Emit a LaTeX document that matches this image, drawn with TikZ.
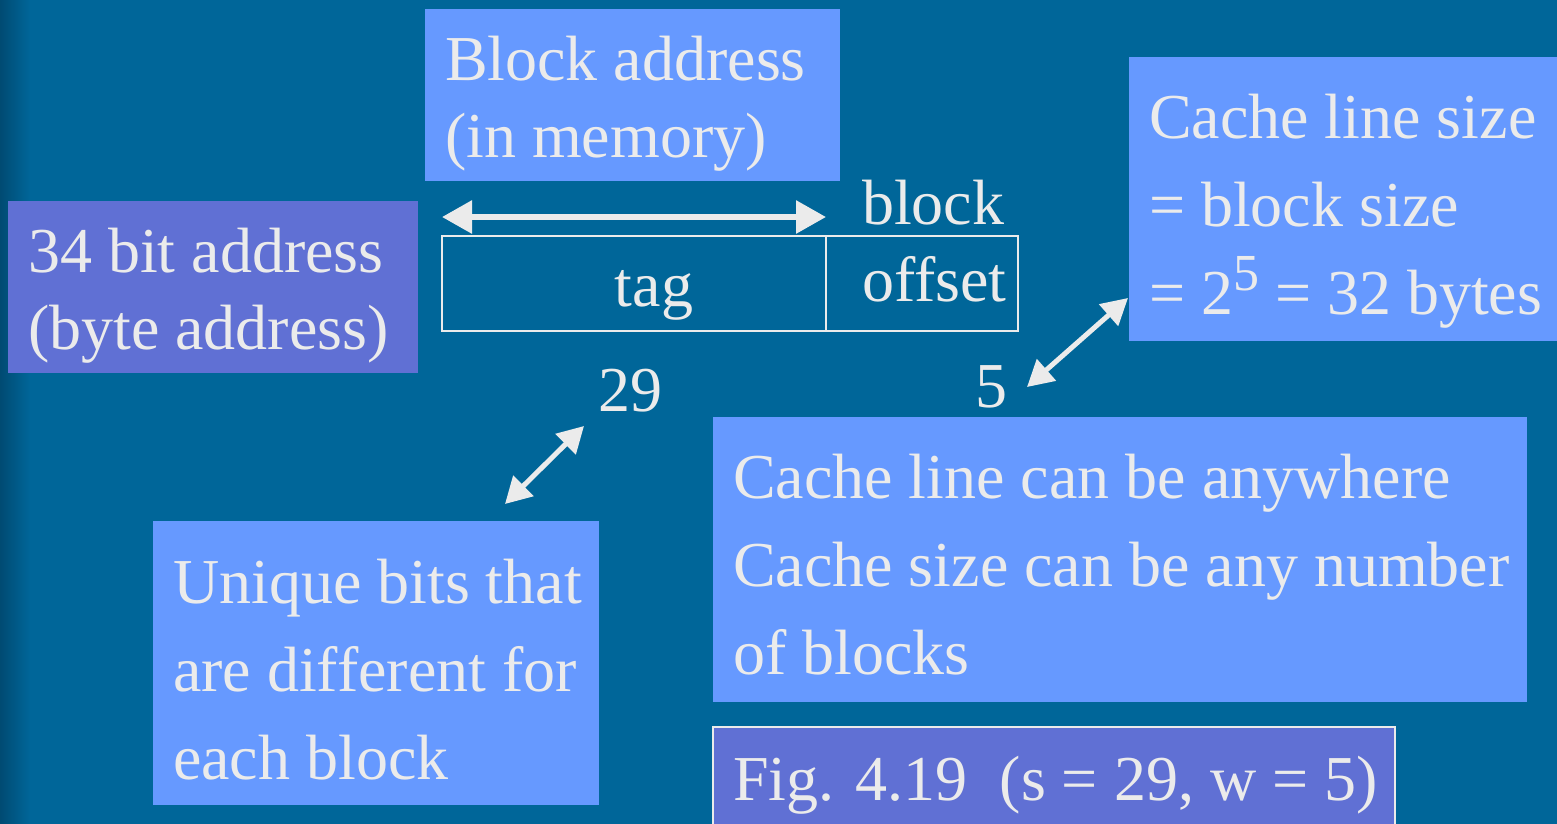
\documentclass[tikz,border=0pt]{standalone}
\usepackage{fontspec}
\setmainfont{Liberation Serif}
\usetikzlibrary{arrows.meta}
\definecolor{bgc}{HTML}{006699}
\definecolor{bgdark}{HTML}{00466C}
\definecolor{lightb}{HTML}{6699FF}
\definecolor{purp}{HTML}{6070D4}
\definecolor{txt}{HTML}{EBEBEB}
\tikzset{
  panel/.style={anchor=north west, inner sep=0pt, outer sep=0pt},
  lbox/.style={panel, fill=lightb},
  pbox/.style={panel, fill=purp},
  txtnode/.style={anchor=base west, inner sep=0pt, outer sep=0pt, text=txt},
  bigtext/.style={font=\fontsize{64}{88}\selectfont},
  twoline/.style={font=\fontsize{64}{77}\selectfont},
  fieldbox/.style={panel, draw=txt, line width=2pt},
  dblarrow/.style={draw=txt, line width=6pt, {Triangle[length=30pt,width=32pt]}-{Triangle[length=30pt,width=32pt]}},
  diagarrow/.style={draw=txt, line width=5pt, {Triangle[length=26pt,width=28pt]}-{Triangle[length=26pt,width=28pt]}}
}
\begin{document}
\begin{tikzpicture}[x=1pt,y=-1pt]
  \useasboundingbox (0,0) rectangle (1557,823);
  % background
  \fill[bgc] (-5,-5) rectangle (1562,830);
  \shade[left color=bgdark, right color=bgc] (-5,-5) rectangle (30,830);

  % panels
  \node[lbox, minimum width=415pt, minimum height=172pt] (bBlock) at (425,9) {};
  \node[pbox, minimum width=410pt, minimum height=172pt] (bAddr) at (8,201) {};
  \node[lbox, minimum width=432pt, minimum height=284pt] (bLine) at (1129,57) {};
  \node[lbox, minimum width=446pt, minimum height=284pt] (bUniq) at (153,521) {};
  \node[lbox, minimum width=814pt, minimum height=285pt] (bAny) at (713,417) {};
  \node[pbox, draw=txt, line width=2pt, minimum width=682pt, minimum height=110pt] (bFig) at (713,727) {};

  % address fields
  \node[fieldbox, minimum width=384pt, minimum height=95pt] (tagbox) at (442,236) {};
  \node[fieldbox, minimum width=192pt, minimum height=95pt] (offbox) at (826,236) {};

  % texts
  \node[txtnode, twoline] (tBlock) at (445,80) {\vtop{\hbox{Block address}\hbox{(in memory)}}};
  \node[txtnode, twoline] (tAddr) at (28,272) {\vtop{\hbox{34 bit address}\hbox{(byte address)}}};
  \node[txtnode, bigtext] (tLine) at (1149,138) {\vtop{\hbox{Cache line size}\hbox{= block size}\hbox{= 2\raisebox{24pt}{\fontsize{52}{52}\selectfont 5} = 32 bytes}}};
  \node[txtnode, bigtext] (tUniq) at (173,603) {\vtop{\hbox{Unique bits that}\hbox{are different for}\hbox{each block}}};
  \node[txtnode, bigtext] (tAny) at (733,498) {\vtop{\hbox{Cache line can be anywhere}\hbox{Cache size can be any number}\hbox{of blocks}}};
  \node[txtnode, bigtext] (tFig) at (733,800) {Fig. 4.19\ \ (s = 29, w = 5)};

  \node[txtnode, bigtext, anchor=base] (tTag) at (654,306) {tag};
  \node[txtnode, bigtext] (tOffset) at (862,301) {offset};
  \node[txtnode, bigtext] (tBlk) at (862,224) {block};
  \node[txtnode, bigtext] (t29) at (598,411) {29};
  \node[txtnode, bigtext] (t5) at (975,407) {5};

  % connector end points
  \coordinate (hL) at ([yshift=19pt]tagbox.north west);
  \coordinate (hR) at ([yshift=19pt]tagbox.north east);
  \coordinate (d1a) at (505,504);
  \coordinate (d1b) at (584,426);
  \coordinate (d2a) at (1027,387);
  \coordinate (d2b) at (1128,298);

  % connectors
  \draw[dblarrow] (hL) -- (hR);
  \draw[diagarrow] (d1a) -- (d1b);
  \draw[diagarrow] (d2a) -- (d2b);
\end{tikzpicture}
\end{document}
